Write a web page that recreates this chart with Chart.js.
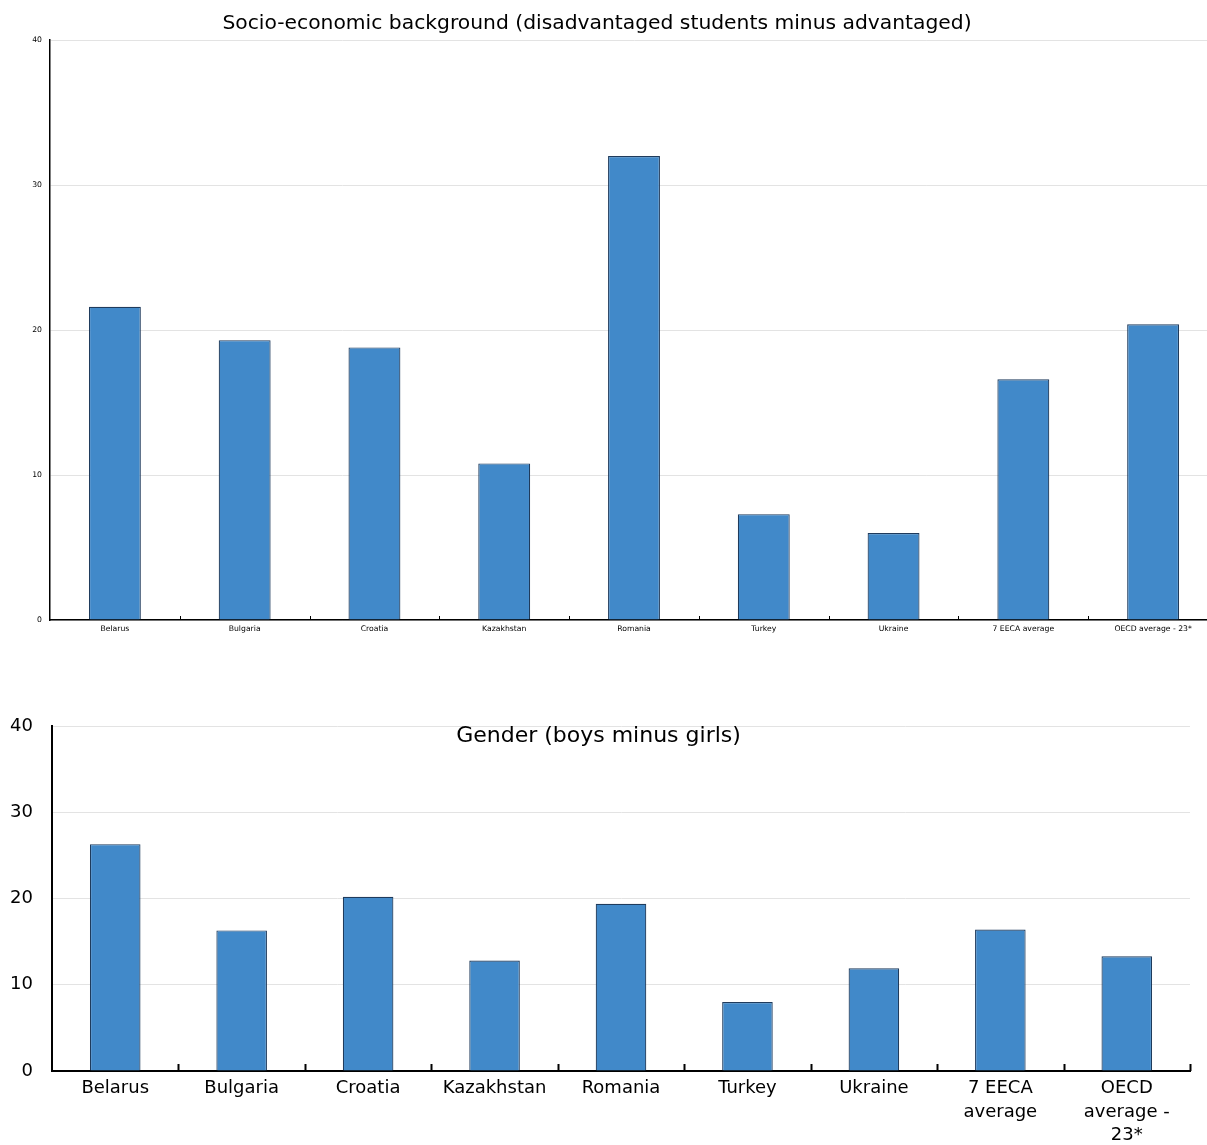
<!DOCTYPE html>
<html><head><meta charset="utf-8">
<script src="https://cdn.jsdelivr.net/npm/chart.js@4"></script>
<style>
html,body{margin:0;padding:0;background:#fff;width:1207px;height:1145px;overflow:hidden;position:relative}
#c1{position:absolute;left:0;top:0}
#c2{position:absolute;left:0;top:690px}
</style></head><body>
<canvas id="c1" width="1218" height="645"></canvas>
<canvas id="c2" width="1207" height="455"></canvas>
<script>
const topTitle = 'Socio-economic background (disadvantaged students minus advantaged)';
const bottomTitle = 'Gender (boys minus girls)';
const topCategories = ['Belarus','Bulgaria','Croatia','Kazakhstan','Romania','Turkey','Ukraine','7 EECA average','OECD average - 23*'];
const bottomCategories = [['Belarus'],['Bulgaria'],['Croatia'],['Kazakhstan'],['Romania'],['Turkey'],['Ukraine'],['7 EECA','average'],['OECD','average -','23*']];
const socioValues = [21.6, 19.3, 18.8, 10.8, 32.0, 7.3, 6.0, 16.6, 20.4];
const genderValues = [26.3, 16.3, 20.2, 12.8, 19.4, 8.0, 11.9, 16.4, 13.3];
const yTicks = [0, 10, 20, 30, 40];

const FONT = "'DejaVu Sans', Verdana, sans-serif";
const BAR = '#4189c9';
const EDGE = '#1f3b5c';

function upTicks(len, width){
  return {
    id: 'upTicks',
    afterDraw(chart){
      const x = chart.scales.x, ctx = chart.ctx;
      const yb = chart.chartArea.bottom;
      ctx.save();
      ctx.strokeStyle = '#000';
      ctx.lineWidth = width;
      for (let i = 1; i <= x.ticks.length; i++){
        const px = Math.round(x.getPixelForValue(i - 0.5)) + 0.5;
        ctx.beginPath();
        ctx.moveTo(px, yb);
        ctx.lineTo(px, yb - len);
        ctx.stroke();
      }
      ctx.restore();
    }
  };
}

function innerTitle(text, size, yOffset){
  return {
    id: 'innerTitle',
    afterDraw(chart){
      const ctx = chart.ctx;
      ctx.save();
      ctx.font = size + 'px ' + FONT;
      ctx.fillStyle = '#000';
      ctx.textAlign = 'center';
      ctx.textBaseline = 'middle';
      ctx.fillText(text, chart.width / 2 - 5, chart.chartArea.top + yOffset);
      ctx.restore();
    }
  };
}

function makeChart(id, labels, values, o){
  return new Chart(document.getElementById(id), {
    type: 'bar',
    data: { labels: labels, datasets: [{ data: values, backgroundColor: BAR, borderColor: EDGE, borderWidth: 1.2, categoryPercentage: 1, barPercentage: o.barPct }] },
    options: {
      responsive: false, animation: false,
      layout: { padding: o.padding },
      plugins: {
        legend: { display: false }, tooltip: { enabled: false },
        title: { display: false }
      },
      scales: {
        x: {
          grid: { display: true, drawOnChartArea: false, drawTicks: false },
          border: { display: true, color: '#000', width: o.axisW },
          ticks: { color: '#000', font: { family: FONT, size: o.xFont, lineHeight: o.xLH }, padding: o.xPad, maxRotation: 0, autoSkip: false },
          afterFit(s){ s.height = o.xH; }
        },
        y: {
          min: 0, max: 40,
          afterBuildTicks(s){ s.ticks = yTicks.map(v => ({ value: v })); },
          grid: { color: '#e3e3e3', lineWidth: 1, drawTicks: false },
          border: { display: true, color: '#000', width: o.axisW },
          ticks: { color: '#000', font: { family: FONT, size: o.yFont }, padding: o.yPad },
          afterFit(s){ s.width = o.yW; }
        }
      }
    },
    plugins: o.plugins
  });
}

const c1 = makeChart('c1', topCategories, socioValues, {
  barPct: 0.40, padding: { left: 0, right: 0, top: 40, bottom: 0 },
  axisW: 1.5, xFont: 7.7, xLH: 1.2, xPad: 4, xH: 25, yFont: 7.7, yPad: 8, yW: 50,
  plugins: [upTicks(4, 1), {
    id: 'topTitle',
    afterDraw(chart){
      const ctx = chart.ctx;
      ctx.save();
      ctx.font = '20.3px ' + FONT;
      ctx.fillStyle = '#000';
      ctx.textAlign = 'center';
      ctx.textBaseline = 'middle';
      ctx.fillText(topTitle, 597, 24);
      ctx.restore();
    }
  }]
});

makeChart('c2', bottomCategories, genderValues, {
  barPct: 0.40, padding: { left: 0, right: 17, top: 36, bottom: 0 },
  axisW: 2, xFont: 18, xLH: 1.3, xPad: 6, xH: 74, yFont: 18, yPad: 19, yW: 52,
  plugins: [upTicks(7, 2), innerTitle(bottomTitle, 22, 10)]
});
</script>
</body></html>
